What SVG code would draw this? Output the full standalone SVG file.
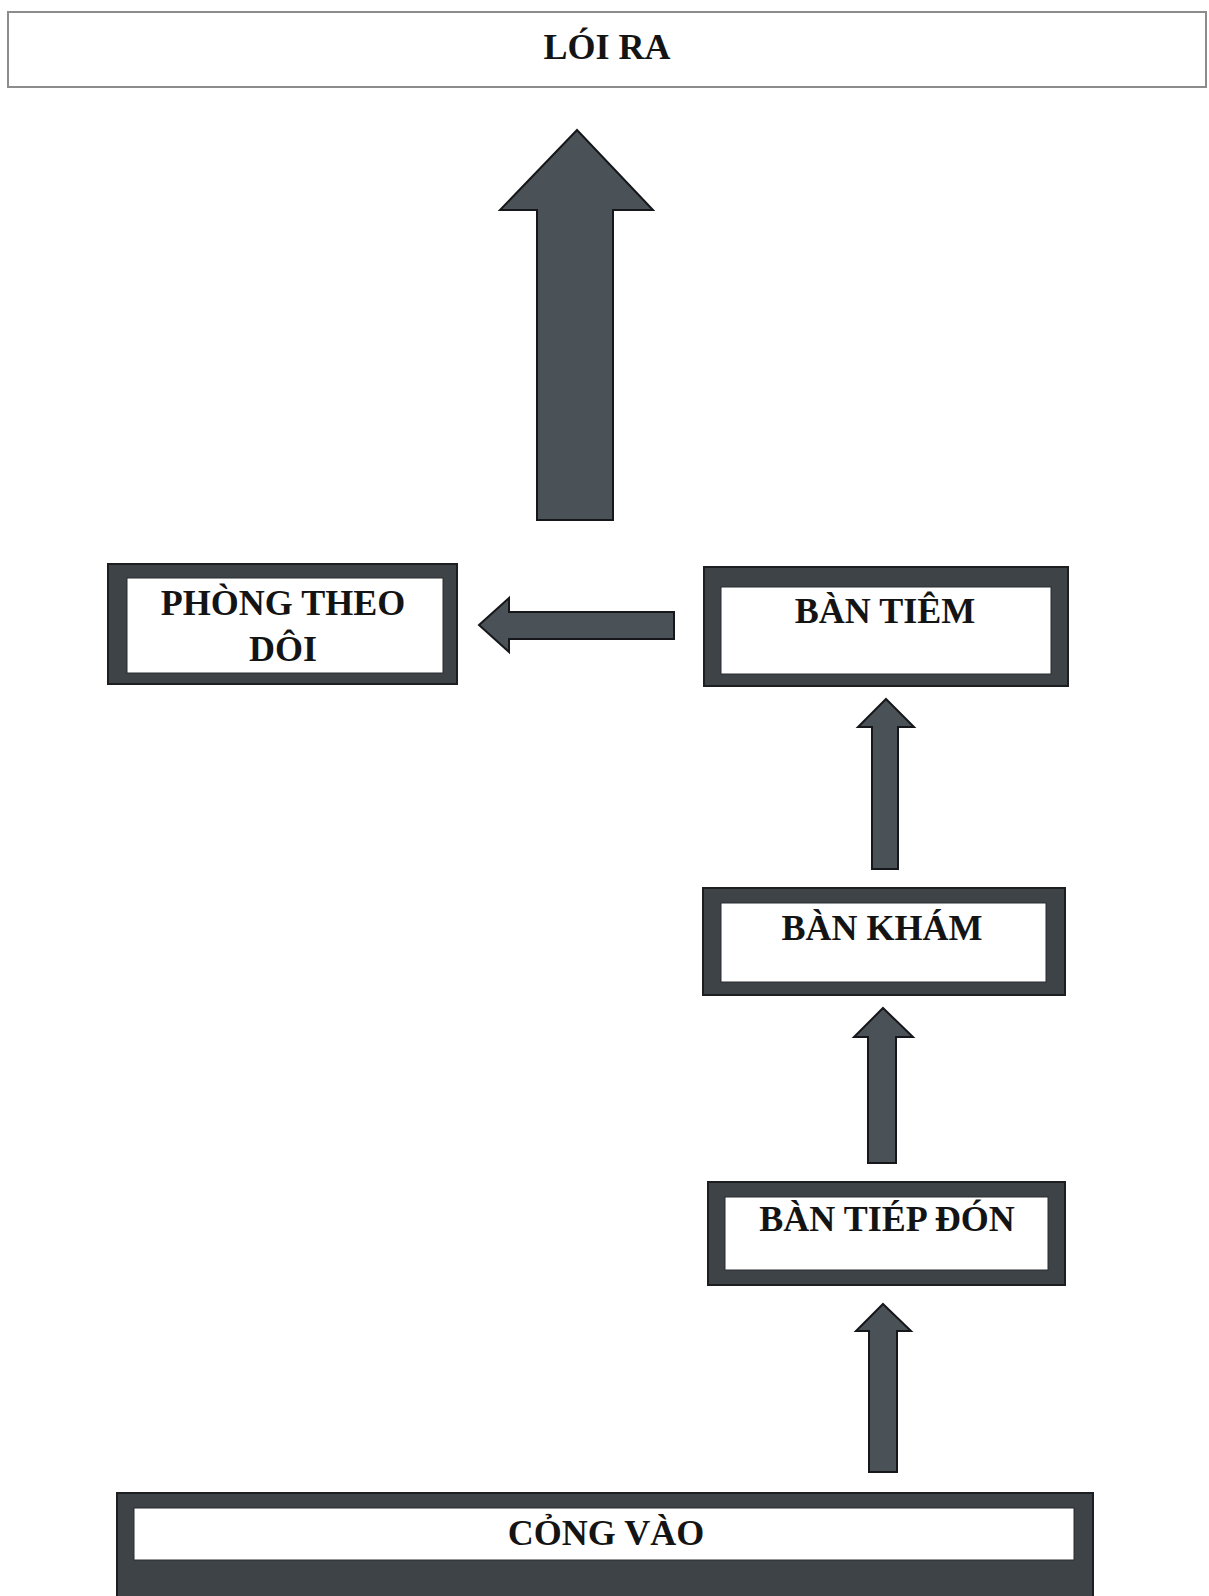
<svg xmlns="http://www.w3.org/2000/svg" width="1209" height="1596" viewBox="0 0 1209 1596">
<style>
.frame{fill:#3d4347;stroke:#1c1e20;stroke-width:2}
.inner{fill:#ffffff;stroke:#2a2d30;stroke-width:1}
.arrow{fill:#4b5257;stroke:#15171a;stroke-width:2;stroke-linejoin:miter}
.lbl{font-family:"Liberation Serif","Times New Roman",serif;font-weight:bold;font-size:36px;fill:#141414;text-anchor:middle}
</style>
<rect width="1209" height="1596" fill="#ffffff"/>
<g id="loi-ra">
<rect x="8" y="12" width="1198" height="75" fill="#ffffff" stroke="#8c8c8c" stroke-width="2"/>
<text class="lbl" x="607" y="59">LÓI RA</text>
</g>
<g id="phong-theo-doi">
<rect class="frame" x="108" y="564" width="349" height="120"/>
<rect class="inner" x="127" y="578" width="316" height="95"/>
<text class="lbl" x="283" y="615">PHÒNG THEO</text>
<text class="lbl" x="283" y="661">DÔI</text>
</g>
<g id="ban-tiem">
<rect class="frame" x="704" y="567" width="364" height="119"/>
<rect class="inner" x="721" y="587" width="330" height="87"/>
<text class="lbl" x="885" y="623">BÀN TIÊM</text>
</g>
<g id="ban-kham">
<rect class="frame" x="703" y="888" width="362" height="107"/>
<rect class="inner" x="721" y="903" width="325" height="79"/>
<text class="lbl" x="882" y="940">BÀN KHÁM</text>
</g>
<g id="ban-tiep-don">
<rect class="frame" x="708" y="1182" width="357" height="103"/>
<rect class="inner" x="725" y="1197" width="323" height="73"/>
<text class="lbl" x="887" y="1231">BÀN TIÉP ĐÓN</text>
</g>
<g id="cong-vao">
<rect class="frame" x="117" y="1493" width="976" height="110"/>
<rect class="inner" x="134" y="1508" width="940" height="52"/>
<text class="lbl" x="606" y="1545">CỎNG VÀO</text>
</g>
<g id="connectors">
<polygon class="arrow" points="577,130 653,210 613,210 613,520 537,520 537,210 500,210"/>
<polygon class="arrow" points="479,625 509,598 509,612 674,612 674,639 509,639 509,652"/>
<polygon class="arrow" points="886,699 914,727 898,727 898,869 872,869 872,727 858,727"/>
<polygon class="arrow" points="883,1008 913,1037 896,1037 896,1163 868,1163 868,1037 854,1037"/>
<polygon class="arrow" points="883,1304 911,1331 897,1331 897,1472 869,1472 869,1331 856,1331"/>
</g>
</svg>
